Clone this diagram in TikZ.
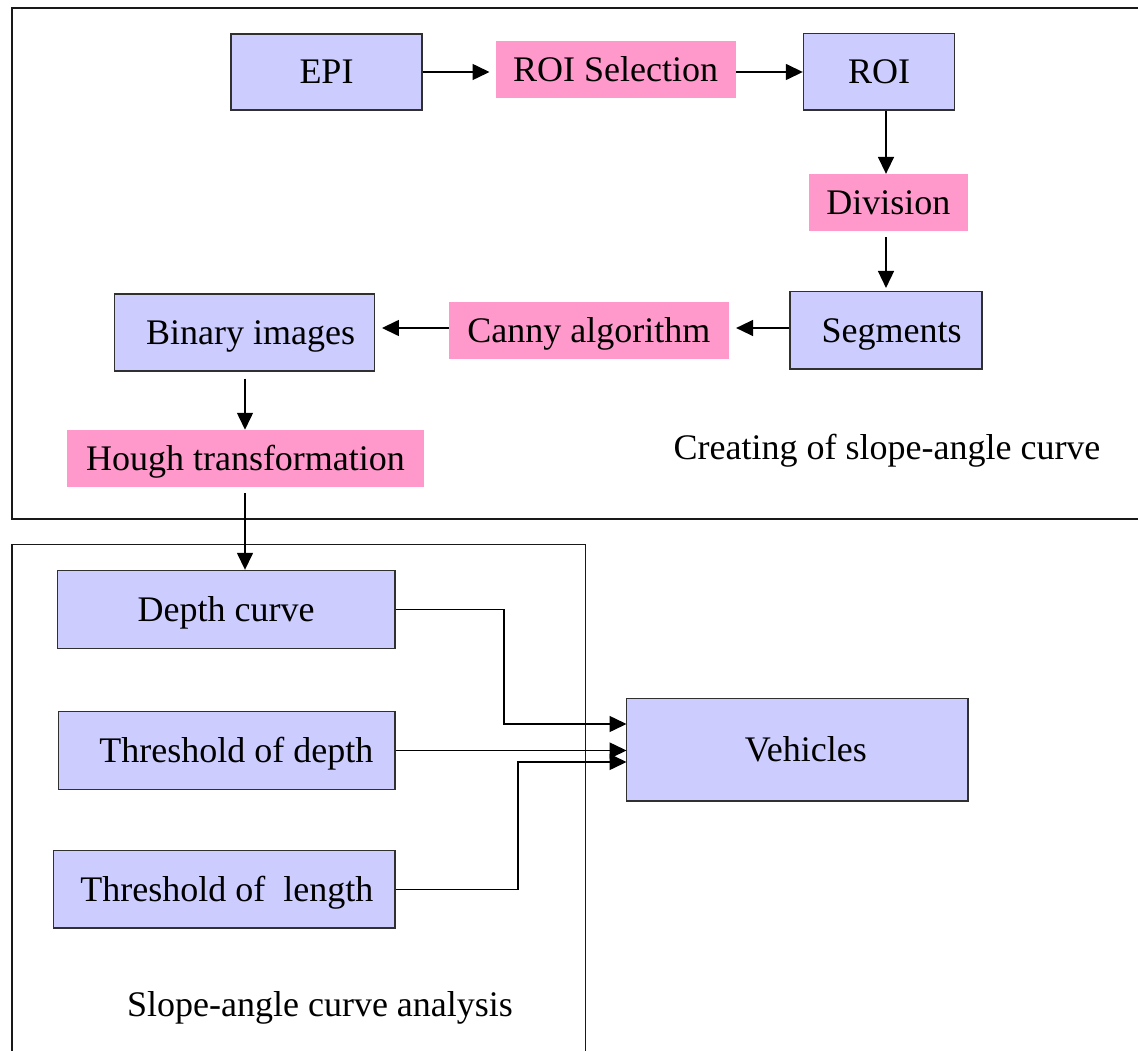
\documentclass[tikz,border=0pt]{standalone}
\usepackage{fontspec}
\setmainfont{Liberation Serif}
\usetikzlibrary{arrows.meta}
\definecolor{lav}{HTML}{CCCCFF}
\definecolor{pinkc}{HTML}{FF99CC}
\definecolor{edgec}{HTML}{303030}
\tikzset{
  base/.style={inner sep=0pt, text height=24pt, text depth=0pt, align=center,
    font=\fontsize{36}{40}\selectfont},
  databox/.style={base, fill=lav, draw=edgec, line width=1.4pt},
  procbox/.style={base, fill=pinkc},
  conn/.style={line width=1.5pt, -{Triangle[length=17pt,width=16pt]}},
  frame/.style={line width=1.8pt, draw=black!90},
  caption/.style={base}
}
\begin{document}
\begin{tikzpicture}[x=1pt,y=-1pt]
\useasboundingbox (0,0) rectangle (1138,1051);
\clip (0,0) rectangle (1138,1051);
\fill[white] (0,0) rectangle (1138,1051);
% frames
\draw[frame] (1150,519) -- (12,519) -- (12,8) -- (1150,8);
\draw[frame, line width=1.4pt] (12,1070) -- (12,544.7) -- (585.5,544.7) -- (585.5,1070);
% nodes
\node[databox, minimum width=191pt, minimum height=76pt] (epi) at (326.5,72) {EPI};
\node[procbox, minimum width=240pt, minimum height=56.5pt] (roisel) at (615.7,69.5) {ROI Selection};
\node[databox, minimum width=151pt, minimum height=76.7pt] (roi) at (879,71.7) {ROI};
\node[procbox, minimum width=159pt, minimum height=56.7pt] (div) at (888.4,202.4) {Division};
\node[databox, minimum width=192pt, minimum height=77.3pt] (seg) at (886,330.3) {\hspace*{11pt}Segments};
\node[procbox, minimum width=280pt, minimum height=56.4pt] (canny) at (588.9,330.5) {Canny algorithm};
\node[databox, minimum width=259.5pt, minimum height=77pt] (bin) at (244.5,332.5) {\hspace*{12pt}Binary images};
\node[procbox, minimum width=357pt, minimum height=56.7pt] (hough) at (245.5,458.3) {Hough transformation};
\node[databox, minimum width=337.6pt, minimum height=78pt] (depth) at (226.2,609.5) {Depth curve};
\node[databox, minimum width=336.4pt, minimum height=77.5pt] (thd) at (226.8,750.5) {\hspace*{19pt}Threshold of depth};
\node[databox, minimum width=341.4pt, minimum height=77.5pt] (thl) at (224.3,889.3) {\hspace*{5pt}Threshold of\ \ length};
\node[databox, minimum width=341.5pt, minimum height=102.7pt] (veh) at (797.3,749.6) {\hspace*{17pt}Vehicles};
\node[caption] (cap1) at (887,447) {Creating of slope-angle curve};
\node[caption] (cap2) at (320,1004) {Slope-angle curve analysis};
% helper coordinates
\coordinate (r1) at (0,72);
\coordinate (cR) at (886,0);
\coordinate (r2) at (0,328);
\coordinate (cH) at (245,0);
\coordinate (v1) at (626.5,724);
\coordinate (v2) at (626.5,750.5);
\coordinate (v3) at (626.5,762);
% connectors
\draw[conn, shorten >=6pt] (epi.east |- r1) -- (roisel.west |- r1);
\draw[conn] (roisel.east |- r1) -- (roi.west |- r1);
\draw[conn] (roi.south -| cR) -- (div.north -| cR);
\draw[conn, shorten <=6.5pt, shorten >=3pt] (div.south -| cR) -- (seg.north -| cR);
\draw[conn, shorten >=7pt] (seg.west |- r2) -- (canny.east |- r2);
\draw[conn, shorten >=7pt] (canny.west |- r2) -- (bin.east |- r2);
\draw[conn, shorten <=7pt] (bin.south -| cH) -- (hough.north -| cH);
\draw[conn, shorten <=6.5pt] (hough.south -| cH) -- (depth.north -| cH);
\draw[conn] (depth.east) -- (504,609.5) |- (v1);
\draw[conn] (thd.east) -- (v2);
\draw[conn] (thl.east) -- (518,889.3) |- (v3);
\end{tikzpicture}
\end{document}
